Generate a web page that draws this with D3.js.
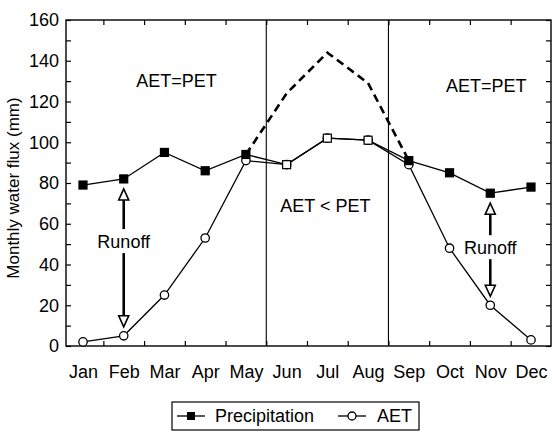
<!DOCTYPE html>
<html>
<head>
<meta charset="utf-8">
<script src="https://cdn.jsdelivr.net/npm/d3@7/dist/d3.min.js"></script>
<style>
  body { margin: 0; background: #fff; }
  svg { font-family: "Liberation Sans", Arial, sans-serif; }
  .axis path { display: none; }
  .axis line { stroke: #000; stroke-width: 1.2; }
  .axis text { font-size: 18px; fill: #000; }
</style>
</head>
<body>
<svg id="chart" width="552" height="432"></svg>
<script>
// values
const months = ['Jan', 'Feb', 'Mar', 'Apr', 'May', 'Jun', 'Jul', 'Aug', 'Sep', 'Oct', 'Nov', 'Dec'];
const precipitation = [79, 82, 95, 86, 94, 89, 102, 101, 91, 85, 75, 78];
const aet = [2, 5, 25, 53, 91, 89, 102, 101, 89, 48, 20, 3];
const petMonths = ['May', 'Jun', 'Jul', 'Aug', 'Sep'];
const pet = [94, 124, 144, 129, 91];
const yTicks = d3.range(0, 161, 10);
const dividers = ['May', 'Aug'];   // dry-season limits sit after these months
const runoffMonths = ['Feb', 'Nov'];
const runoffLabelAt = [51, 48];    // flux level where the word sits on each arrow

const svg = d3.select('#chart');
const pLeft = 66, pRight = 551, pTop = 20, pBottom = 346;

const x = d3.scalePoint().domain(months).range([83, 531]);
const step = x.step();
const y = d3.scaleLinear().domain([0, 160]).range([pBottom, pTop]);
const xIdx = d3.scaleLinear().domain([0, months.length - 1]).range(x.range());
const edges = d3.range(0.5, months.length - 1, 1);

// frame
svg.append('rect')
  .attr('x', pLeft).attr('y', pTop)
  .attr('width', pRight - pLeft).attr('height', pBottom - pTop)
  .attr('fill', 'none').attr('stroke', '#000').attr('stroke-width', 1.4);

// left axis with inward ticks, labels every 20
svg.append('g').attr('class', 'axis')
  .attr('transform', `translate(${pLeft},0)`)
  .call(d3.axisLeft(y).tickValues(yTicks).tickSize(-5).tickPadding(7)
    .tickFormat(d => d % 20 === 0 ? d : ''));

// right axis, ticks only
svg.append('g').attr('class', 'axis')
  .attr('transform', `translate(${pRight},0)`)
  .call(d3.axisRight(y).tickValues(yTicks).tickSize(-5).tickFormat(''));

// month boundary ticks, bottom and top
svg.append('g').attr('class', 'axis')
  .attr('transform', `translate(0,${pBottom})`)
  .call(d3.axisBottom(xIdx).tickValues(edges).tickSize(-5).tickFormat(''));
svg.append('g').attr('class', 'axis')
  .attr('transform', `translate(0,${pTop})`)
  .call(d3.axisTop(xIdx).tickValues(edges).tickSize(-5).tickFormat(''));

// month labels
svg.append('g').attr('class', 'axis')
  .attr('transform', `translate(0,${pBottom})`)
  .call(d3.axisBottom(x).tickSize(0).tickPadding(19));

// y title
svg.append('text')
  .attr('transform', `translate(19,${(pTop + pBottom) / 2 + 5}) rotate(-90)`)
  .attr('text-anchor', 'middle')
  .attr('font-size', 17)
  .text('Monthly water flux (mm)');

// dry season dividers
svg.selectAll('.divider').data(dividers).enter().append('line')
  .attr('x1', d => x(d) + step / 2).attr('x2', d => x(d) + step / 2)
  .attr('y1', pTop).attr('y2', pBottom)
  .attr('stroke', '#000').attr('stroke-width', 1.1);

// PET dashed line
svg.append('path')
  .datum(pet)
  .attr('fill', 'none').attr('stroke', '#000')
  .attr('stroke-width', 2.6).attr('stroke-dasharray', '8,5')
  .attr('d', d3.line().x((d, i) => x(petMonths[i])).y(d => y(d)));

const lineGen = d3.line().x((d, i) => x(months[i])).y(d => y(d));

svg.append('path').datum(precipitation)
  .attr('fill', 'none').attr('stroke', '#000').attr('stroke-width', 1.3)
  .attr('d', lineGen);
svg.append('path').datum(aet)
  .attr('fill', 'none').attr('stroke', '#000').attr('stroke-width', 1.3)
  .attr('d', lineGen);

// AET markers
svg.selectAll('.aet').data(aet).enter().append('circle')
  .attr('cx', (d, i) => x(months[i])).attr('cy', d => y(d))
  .attr('r', 4.2)
  .attr('fill', '#fff').attr('stroke', '#000').attr('stroke-width', 1.3);

// precipitation markers, open where all of it evaporates
svg.selectAll('.pr').data(precipitation).enter().append('rect')
  .attr('x', (d, i) => x(months[i]) - 4).attr('y', d => y(d) - 4)
  .attr('width', 8).attr('height', 8)
  .attr('fill', (d, i) => d === aet[i] ? '#fff' : '#000')
  .attr('stroke', '#000').attr('stroke-width', 1.2);

// labels in the plot
const notes = [
  { t: 'AET=PET', m: 'Mar', dx: 12, v: 127 },
  { t: 'AET < PET', m: 'Jul', dx: -2, v: 66 },
  { t: 'AET=PET', m: 'Nov', dx: -4, v: 124.5 }
];
svg.selectAll('.note').data(notes).enter().append('text')
  .attr('x', d => x(d.m) + d.dx).attr('y', d => y(d.v))
  .attr('text-anchor', 'middle').attr('font-size', 18)
  .text(d => d.t);

// runoff arrows between precipitation and AET
function arrowHead(g, xp, yp, dir) {
  g.append('path')
    .attr('d', `M${xp},${yp} L${xp - 5},${yp - dir * 11} L${xp + 5},${yp - dir * 11} Z`)
    .attr('fill', '#fff').attr('stroke', '#000').attr('stroke-width', 1.6)
    .attr('stroke-linejoin', 'miter');
}
runoffMonths.forEach((m, k) => {
  const i = months.indexOf(m);
  const xp = x(m);
  const y0 = y(precipitation[i]) + 10;
  const y1 = y(aet[i]) - 9;
  const mid = y(runoffLabelAt[k]);
  const g = svg.append('g');
  g.append('line').attr('x1', xp).attr('x2', xp)
    .attr('y1', y0 + 10).attr('y2', mid - 13)
    .attr('stroke', '#000').attr('stroke-width', 2.6);
  g.append('line').attr('x1', xp).attr('x2', xp)
    .attr('y1', mid + 11).attr('y2', y1 - 10)
    .attr('stroke', '#000').attr('stroke-width', 2.6);
  arrowHead(g, xp, y0, -1);
  arrowHead(g, xp, y1, 1);
  g.append('text').attr('x', xp).attr('y', mid + 6)
    .attr('text-anchor', 'middle').attr('font-size', 18)
    .text('Runoff');
});

// legend
const lg = svg.append('g');
lg.append('rect').attr('x', 172).attr('y', 402).attr('width', 247).attr('height', 28)
  .attr('fill', '#fff').attr('stroke', '#000').attr('stroke-width', 1.2);
lg.append('line').attr('x1', 177).attr('x2', 205).attr('y1', 416).attr('y2', 416)
  .attr('stroke', '#000').attr('stroke-width', 1.3);
lg.append('rect').attr('x', 187).attr('y', 412).attr('width', 8).attr('height', 8)
  .attr('fill', '#000');
lg.append('text').attr('x', 215).attr('y', 422).attr('font-size', 18).text('Precipitation');
lg.append('line').attr('x1', 338).attr('x2', 366).attr('y1', 416).attr('y2', 416)
  .attr('stroke', '#000').attr('stroke-width', 1.3);
lg.append('circle').attr('cx', 352).attr('cy', 416).attr('r', 4)
  .attr('fill', '#fff').attr('stroke', '#000').attr('stroke-width', 1.3);
lg.append('text').attr('x', 377).attr('y', 422).attr('font-size', 18).text('AET');
</script>
</body>
</html>
